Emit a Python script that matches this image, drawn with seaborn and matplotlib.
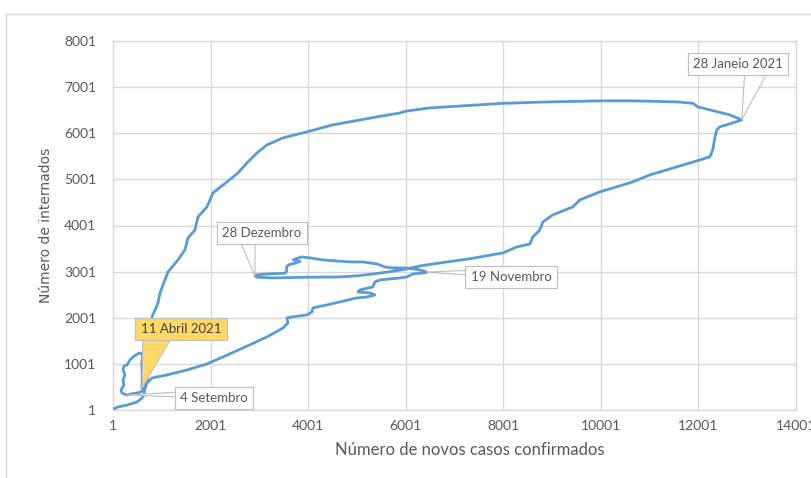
import numpy as np
import pandas as pd
import matplotlib
matplotlib.use("Agg")
import matplotlib.pyplot as plt
import seaborn as sns
from matplotlib.lines import Line2D
from matplotlib.patches import Polygon

# Percurso diário: novos casos (média) vs internados, por ordem cronológica
casos = [
    1, 103, 288, 493, 595, 640, 650, 698, 718, 677, 636, 595, 534, 472, 411, 349,
    288, 226, 206, 247, 206, 226, 165, 185, 267, 288, 370, 493, 575, 657,
    698, 800, 1108, 1517, 1927, 2255, 2665, 3157, 3485, 3587, 3567, 3669, 3976,
    4079, 4099, 4386, 4652, 5001, 5206, 5369, 5267, 5021, 5062, 5329, 5369, 5472,
    5882, 6025, 6148, 6353, 6435,
    6292, 6025, 5738, 5574, 5410, 5124, 4857, 4304, 4038, 3868, 3697, 3833, 3700,
    3600, 3560, 3560, 3526, 3157, 2945, 2911,
    2952, 3280, 3976, 4652, 5001, 5329, 5677, 6025, 6292, 6640, 7316, 7992, 8135,
    8279, 8545, 8607, 8750, 8812, 9017, 9427, 9570, 9980, 10390, 10656, 11004,
    11558, 11968, 12234, 12295, 12336, 12377, 12438, 12643, 12889,
    12643, 12234, 11988, 11886, 11558, 10656, 9980, 8955, 8001, 6497, 6001, 5882,
    5410, 4509, 3976, 3485, 3157, 2952, 2747, 2562, 2337, 2050, 1927, 1743, 1681,
    1538, 1476, 1333, 1128, 1066, 964, 923, 800, 759, 657, 616, 590, 600, 595,
]
internados = [
    20, 66, 109, 175, 261, 340, 450, 652, 826, 977, 1129, 1215, 1237, 1194, 1150, 1086,
    977, 955, 869, 760, 652, 543, 435, 370, 330, 326, 348, 370, 391, 478,
    587, 695, 760, 869, 999, 1151, 1346, 1585, 1780, 1888, 1997, 2018, 2062,
    2127, 2214, 2279, 2344, 2430, 2452, 2495, 2539, 2560, 2604, 2669, 2777, 2821,
    2864, 2886, 2950, 2972, 2990,
    3038, 3081, 3081, 3102, 3168, 3211, 3211, 3255, 3298, 3320, 3260, 3220, 3175,
    3150, 3100, 3001, 2966, 2951, 2929, 2907,
    2880, 2864, 2880, 2886, 2910, 2950, 3000, 3059, 3124, 3180, 3280, 3406, 3471,
    3536, 3600, 3753, 3905, 4079, 4231, 4404, 4556, 4730, 4860, 4947, 5098,
    5272, 5402, 5489, 5641, 5901, 6074, 6139, 6204, 6291,
    6400, 6508, 6573, 6650, 6681, 6703, 6703, 6681, 6650, 6551, 6480, 6440,
    6356, 6183, 6031, 5901, 5749, 5575, 5358, 5141, 4946, 4708, 4404, 4187, 3905,
    3732, 3472, 3255, 2994, 2821, 2539, 2322, 2018, 1801, 1454, 1237, 1000, 750, 478,
]

# Datas assinaladas e a posição (índice) na série
datas = ["4 Setembro", "19 Novembro", "28 Dezembro", "28 Janeio 2021", "11 Abril 2021"]
idx_datas = [25, 60, 80, casos.index(max(casos)), len(casos) - 1]

x_ticks = np.arange(1, 14002, 2000)
y_ticks = np.arange(1, 8002, 1000)

df = pd.DataFrame({"casos": casos, "internados": internados, "ordem": range(len(casos))})

sns.set_style("white")
plt.rcParams["font.family"] = ["Lato", "DejaVu Sans"]

fig = plt.figure(figsize=(8.12, 4.78), dpi=100)
ax = fig.add_axes([113 / 812, 68 / 478, 683 / 812, 369 / 478])

sns.lineplot(data=df, x="casos", y="internados", sort=False, estimator=None,
             color="#5b9bd5", linewidth=2, ax=ax, zorder=3)

ax.set_xlim(1, 14001)
ax.set_ylim(1, 8001)
ax.set_xticks(x_ticks)
ax.set_yticks(y_ticks)
ax.grid(True, color="#d9d9d9", linewidth=1)
ax.set_axisbelow(True)
for s in ax.spines.values():
    s.set_color("#d9d9d9")
    s.set_linewidth(1)
ax.tick_params(length=0, labelsize=10, labelcolor="#595959")
ax.tick_params(axis="x", pad=7)
ax.tick_params(axis="y", pad=12)

ax.set_xlabel("Número de novos casos confirmados", fontsize=12, color="#595959")
ax.xaxis.set_label_coords(0.523, -0.088)
ax.set_ylabel("Número de internados", fontsize=10, color="#595959", labelpad=8,
              family=["DejaVu Sans"])

# caixas das datas: centro da caixa e base da cunha, em píxeis relativos ao ponto
caixas = [(87, -3), (84, -5), (7, 43), (-4, 56), (39, 59)]
bases = [((53, 3), (53, -2)), ((45, 2), (45, -3)), ((-15, 35), (0, 35)),
         ((3, 48), (26, 48)), ((1, 51), (30, 51))]
for nome, i, cx, base in zip(datas, idx_datas, caixas, bases):
    amarelo = nome.startswith("11 Abril")
    fc = "#ffd966" if amarelo else "white"
    ax.annotate(nome, xy=(casos[i], internados[i]), xytext=(cx[0] * 0.72, cx[1] * 0.72),
                textcoords="offset points", ha="center", va="center", fontsize=9.5,
                color="#404040" if amarelo else "#595959", zorder=6,
                bbox=dict(boxstyle="square,pad=0.4", fc=fc, ec="#bfbfbf", lw=0.8))
    px, py = ax.transData.transform((casos[i], internados[i]))
    cunha = Polygon([(px, py), (px + base[0][0], py + base[0][1]),
                     (px + base[1][0], py + base[1][1])], closed=True,
                    fc=fc, ec="#bfbfbf", lw=0.8, transform=None, zorder=5)
    ax.add_artist(cunha)

# moldura da área do gráfico
fig.add_artist(Line2D([6 / 812, 1], [1 - 14 / 478, 1 - 14 / 478], color="#d9d9d9", lw=1))
fig.add_artist(Line2D([6 / 812, 6 / 812], [0, 1 - 14 / 478], color="#d9d9d9", lw=1))

fig.savefig("out.png", dpi=100, facecolor="white")
